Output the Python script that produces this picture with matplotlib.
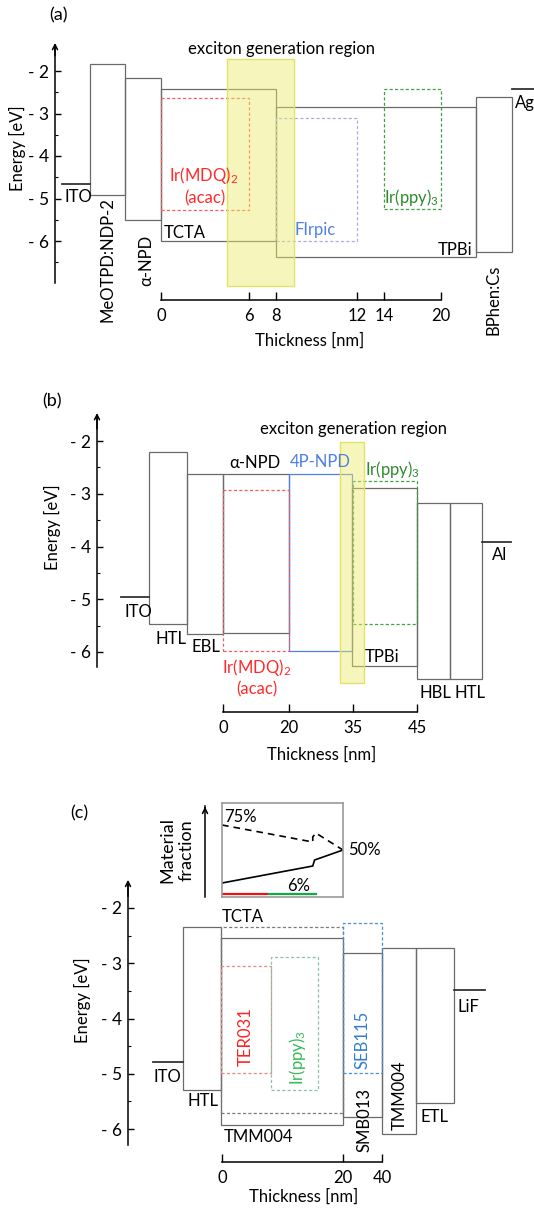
import matplotlib.pyplot as plt
from matplotlib.patches import Rectangle, FancyArrowPatch

plt.rcParams['font.family'] = ['Lato', 'DejaVu Sans']
plt.rcParams['mathtext.default'] = 'regular'
plt.rcParams['font.size'] = 12

W, H = 534, 1209

# ---------------- data ----------------
# panel (a): host layers
a_names = ['MeOTPD:NDP-2', 'α-NPD', 'TCTA', 'TPBi', 'BPhen:Cs']
a_left = [90, 125, 161, 276, 476]
a_right = [125, 161, 276, 476, 512]
a_lumo = [-1.84, -2.16, -2.42, -2.85, -2.61]
a_homo = [-4.91, -5.51, -6.00, -6.38, -6.26]
# panel (a): emitters
a_dop = ['Ir(MDQ)2(acac)', 'FIrpic', 'Ir(ppy)3']
a_dop_left = [161, 276, 384]
a_dop_right = [249, 357, 441]
a_dop_lumo = [-2.64, -3.11, -2.42]
a_dop_homo = [-5.27, -6.00, -5.25]
a_ito = -4.66
a_ag = -2.42
a_nm = [0, 6, 8, 12, 14, 20]
a_nm_x = [161, 249, 276, 357, 384, 441]
a_exciton = (227, 294, -1.72, -7.07)

# panel (b)
b_names = ['HTL', 'EBL', 'α-NPD', '4P-NPD', 'TPBi', 'HBL', 'HTL']
b_left = [149, 187, 223, 289, 352, 417, 450]
b_right = [187, 223, 289, 352, 417, 450, 482]
b_lumo = [-2.21, -2.63, -2.63, -2.63, -2.89, -3.18, -3.18]
b_homo = [-5.47, -5.66, -5.64, -5.98, -6.27, -6.51, -6.51]
b_dop = ['Ir(MDQ)2(acac)', 'Ir(ppy)3']
b_dop_left = [223, 353]
b_dop_right = [289, 417]
b_dop_lumo = [-2.93, -2.76]
b_dop_homo = [-5.98, -5.47]
b_ito = -4.96
b_al = -3.91
b_nm = [0, 20, 35, 45]
b_nm_x = [223, 289, 353, 417]
b_exciton = (340, 364, -2.02, -6.59)

# panel (c)
c_names = ['HTL', 'TMM004', 'SMB013', 'TMM004', 'ETL']
c_left = [183, 221, 343, 382, 416]
c_right = [221, 343, 382, 416, 454]
c_lumo = [-2.34, -2.54, -2.81, -2.72, -2.72]
c_homo = [-5.29, -5.93, -5.78, -6.09, -5.53]
c_dop = ['TCTA', 'TER031', 'Ir(ppy)3', 'SEB115']
c_dop_left = [221, 221, 271, 343]
c_dop_right = [343, 271, 318, 382]
c_dop_lumo = [-2.34, -3.05, -2.89, -2.27]
c_dop_homo = [-5.71, -4.99, -5.29, -4.99]
c_ito = -4.79
c_lif = -3.48
c_nm = [0, 20, 40]
c_nm_x = [222, 343, 382]

# inset: material fraction [%] vs position in EML [nm]
frac_dash_x = [0, 15.0, 15.0, 15.5, 20]
frac_dash = [75, 58, 63, 67, 50]
frac_solid_x = [0, 15.0, 15.3, 20]
frac_solid = [17, 34, 40, 50]
frac_red_x = [0, 7.5]
frac_green_x = [7.8, 15.6]
frac_dopant = 6

GREY = '#6a6a6a'
RED = '#ff2a2a'
BLUE = '#4f7fe8'
GREEN = '#2e8b2e'

fig = plt.figure(figsize=(W / 100, H / 100), dpi=100)


def txt(x, y, s, **kw):
    kw.setdefault('ha', 'center')
    kw.setdefault('va', 'center')
    fig.text(x / W, 1 - y / H, s, **kw)


def panel(top, bot, y_m2, scale, axis_x, e_lo, e_tip, nm_x, nm, axis_px, minor):
    ax = fig.add_axes([0, 1 - bot / H, 1, (bot - top) / H])
    ax.set_xlim(0, W)
    ax.set_ylim(-2 - (bot - y_m2) / scale, -2 + (y_m2 - top) / scale)
    ax.patch.set_visible(False)
    ax.spines[['top', 'right']].set_visible(False)
    ax.spines['left'].set_position(('data', axis_x))
    ax.spines['left'].set_bounds(e_lo, e_tip - 0.1)
    ax.spines['bottom'].set_position(('data', -2 - (axis_px - y_m2) / scale))
    ax.spines['bottom'].set_bounds(nm_x[0], nm_x[-1])
    for s in ['left', 'bottom']:
        ax.spines[s].set_linewidth(1.1)
    ax.set_yticks([-2, -3, -4, -5, -6])
    ax.set_yticklabels(['- 2', '- 3', '- 4', '- 5', '- 6'])
    ax.set_yticks(minor, minor=True)
    ax.tick_params(axis='y', which='major', direction='in', length=4, width=1, pad=4, labelsize=12.5)
    ax.tick_params(axis='y', which='minor', direction='in', length=2.5, width=0.8)
    ax.set_xticks(nm_x)
    ax.set_xticklabels([str(v) for v in nm])
    ax.tick_params(axis='x', direction='in', length=6, width=1, pad=6, labelsize=12)
    ax.annotate('', xy=(axis_x, e_tip), xytext=(axis_x, e_tip - 0.3),
                arrowprops=dict(arrowstyle='->', lw=1.1, color='k', shrinkA=0, shrinkB=0,
                                mutation_scale=9))
    return ax


def boxes(ax, left, right, lumo, homo, color=GREY, ls='-', lw=0.9, z=2):
    for x0, x1, lu, ho in zip(left, right, lumo, homo):
        ax.add_patch(Rectangle((x0, ho), x1 - x0, lu - ho, fill=False, edgecolor=color,
                               linestyle=ls, lw=lw, zorder=z))


def level(ax, x0, x1, e):
    ax.plot([x0, x1], [e, e], color='#333333', lw=1.3, zorder=2)


def exciton(ax, r):
    ax.add_patch(Rectangle((r[0], r[3]), r[1] - r[0], r[2] - r[3], facecolor=(0.93, 0.93, 0.42),
                           alpha=0.45, edgecolor='none', zorder=4))
    ax.add_patch(Rectangle((r[0], r[3]), r[1] - r[0], r[2] - r[3], fill=False,
                           edgecolor='#e2e26a', lw=1, zorder=5))


DASH = (0, (2.5, 1.8))

# ---------------- panel (a) ----------------
ax = panel(0, 370, 71, 42.5, 55, -6.99, -1.34, a_nm_x, a_nm, 300,
           [-2.5, -3.5, -4.5, -5.5, -6.5])
boxes(ax, a_left, a_right, a_lumo, a_homo)
level(ax, 62, 90, a_ito)
level(ax, 512, 534, a_ag)
a_dop_col = ['#f06060', '#a8acdf', '#40a040']
for i in range(3):
    boxes(ax, [a_dop_left[i]], [a_dop_right[i]], [a_dop_lumo[i]], [a_dop_homo[i]],
          color=a_dop_col[i], ls=DASH, lw=0.9, z=3)
exciton(ax, a_exciton)
txt(58, 15, '(a)', fontsize=13)
txt(282, 49, 'exciton generation region')
txt(17, 148, 'Energy [eV]', rotation=90)
txt(64, 197, 'ITO', ha='left')
txt(108, 260, a_names[0], rotation=90)
txt(146, 260, a_names[1], rotation=90)
txt(164, 233, a_names[2], ha='left')
txt(204, 176, 'Ir(MDQ)$_2$', color=RED)
txt(205, 198, '(acac)', color=RED)
txt(315, 230, a_dop[1], color=BLUE)
txt(412, 198, 'Ir(ppy)$_3$', color=GREEN)
txt(472, 250, a_names[3], ha='right')
txt(493, 300, a_names[4], rotation=90)
txt(515, 103, 'Ag', ha='left')
txt(310, 341, 'Thickness [nm]')

# ---------------- panel (b) ----------------
ax = panel(370, 780, 441, 52.75, 97, -6.28, -1.47, b_nm_x, b_nm, 712,
           [-2.5, -3.5, -4.5, -5.5])
for i in range(len(b_names)):
    col = BLUE if b_names[i] == '4P-NPD' else GREY
    boxes(ax, [b_left[i]], [b_right[i]], [b_lumo[i]], [b_homo[i]], color=col)
level(ax, 121, 149, b_ito)
level(ax, 482, 511, b_al)
b_dop_col = ['#f06060', '#40a040']
for i in range(2):
    boxes(ax, [b_dop_left[i]], [b_dop_right[i]], [b_dop_lumo[i]], [b_dop_homo[i]],
          color=b_dop_col[i], ls=DASH, lw=0.9, z=3)
exciton(ax, b_exciton)
txt(52, 401, '(b)', fontsize=13)
txt(353, 429, 'exciton generation region')
txt(52, 527, 'Energy [eV]', rotation=90)
txt(124, 612, 'ITO', ha='left')
txt(171, 639, b_names[0])
txt(206, 647, b_names[1])
txt(255, 463, b_names[2])
txt(320, 462, b_names[3], color=BLUE)
txt(393, 470, 'Ir(ppy)$_3$', color=GREEN)
txt(257, 667, 'Ir(MDQ)$_2$', color=RED)
txt(257, 689, '(acac)', color=RED)
txt(382, 657, b_names[4])
txt(435, 693, b_names[5])
txt(470, 693, b_names[6])
txt(500, 555, 'Al')
txt(322, 755, 'Thickness [nm]')

# ---------------- panel (c) ----------------
ax = panel(780, 1209, 908, 55.25, 128, -6.29, -1.49, c_nm_x, c_nm, 1162,
           [-2.5, -3.5, -4.5, -5.5])
boxes(ax, c_left, c_right, c_lumo, c_homo)
level(ax, 153, 183, c_ito)
level(ax, 454, 485, c_lif)
c_dop_col = ['#7a7a7a', '#e68a8a', '#88c4a4', '#4a90d0']
for i in range(4):
    boxes(ax, [c_dop_left[i]], [c_dop_right[i]], [c_dop_lumo[i]], [c_dop_homo[i]],
          color=c_dop_col[i], ls=DASH, lw=0.9, z=3)
txt(79, 813, '(c)', fontsize=13)
txt(82, 1000, 'Energy [eV]', rotation=90)
txt(243, 917, c_dop[0])
txt(167, 1077, 'ITO')
txt(203, 1101, c_names[0])
txt(246, 1037, c_dop[1], rotation=90, color='#ff2020')
txt(297, 1057, 'Ir(ppy)$_3$', rotation=90, color='#33bb55')
txt(363, 1040, c_dop[3], rotation=90, color='#2f7fd0')
txt(258, 1137, c_names[1])
txt(365, 1120, c_names[2], rotation=90)
txt(400, 1095, c_names[3], rotation=90)
txt(435, 1117, c_names[4])
txt(468, 1007, 'LiF')
txt(304, 1197, 'Thickness [nm]')

# inset: material fraction
ins = fig.add_axes([222 / W, 1 - 897 / H, (343 - 222) / W, (897 - 803) / H])
ins.set_xlim(0, 20)
ins.set_ylim(3, 97)
ins.set_xticks([])
ins.set_yticks([])
for s in ins.spines.values():
    s.set_color('#999999')
    s.set_linewidth(1.2)
ins.plot(frac_dash_x, frac_dash, color='k', lw=1.2, ls=(0, (4, 3)))
ins.plot(frac_solid_x, frac_solid, color='k', lw=1.2)
ins.plot(frac_red_x, [frac_dopant] * 2, color='#ee1111', lw=1.6)
ins.plot(frac_green_x, [frac_dopant] * 2, color='#11aa44', lw=1.6)
fig.add_artist(plt.Line2D([205 / W, 205 / W], [1 - 897 / H, 1 - 806 / H], color='k', lw=1.1))
fig.add_artist(FancyArrowPatch((205 / W, 1 - 812 / H), (205 / W, 1 - 804 / H),
                               transform=fig.transFigure, arrowstyle='->', mutation_scale=9,
                               lw=1.1, color='k'))
txt(177, 850, 'Material\nfraction', rotation=90, linespacing=1.3, fontsize=13)
txt(240, 817, '75%')
txt(348, 850, '50%', ha='left')
txt(299, 886, '6%')

fig.savefig('out.png', dpi=100)
